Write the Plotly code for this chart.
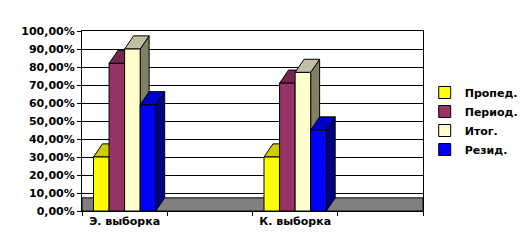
import plotly.graph_objects as go

categories = ["Э. выборка", " ", "К. выборка", "  "]
series_names = ["Пропед.", "Период.", "Итог.", "Резид."]
propedevt = [0.30, None, 0.30, None]
period = [0.82, None, 0.71, None]
itog = [0.90, None, 0.77, None]
rezid = [0.59, None, 0.45, None]
series_values = [propedevt, period, itog, rezid]
colors = ["#FFFF00", "#993366", "#FFFFCC", "#0000FF"]
top_colors = ["#CCCC00", "#732650", "#C0C0A0", "#0000CC"]
side_colors = ["#999900", "#5C1F3D", "#808066", "#000080"]

BARGAP = 0.27
DEPTH_X = 0.105   # depth offset, category units
DEPTH_Y = 0.073   # depth offset, value units

fig = go.Figure()
for name, vals, col in zip(series_names, series_values, colors):
    fig.add_trace(go.Bar(
        x=categories, y=vals, name=name,
        marker=dict(color=col, line=dict(color="black", width=1)),
    ))

shapes = [dict(type="rect", xref="paper", yref="y", x0=0, x1=1, y0=0, y1=DEPTH_Y,
               fillcolor="#808080", line=dict(color="black", width=1), layer="between")]

n = len(series_values)
w = (1 - BARGAP) / n
for i in range(len(categories)):
    for j, vals in enumerate(series_values):
        v = vals[i]
        if v is None:
            continue
        x0 = i - (1 - BARGAP) / 2 + j * w
        x1 = x0 + w
        top = f"M {x0},{v} L {x0 + DEPTH_X},{v + DEPTH_Y} L {x1 + DEPTH_X},{v + DEPTH_Y} L {x1},{v} Z"
        side = f"M {x1},0 L {x1 + DEPTH_X},{DEPTH_Y} L {x1 + DEPTH_X},{v + DEPTH_Y} L {x1},{v} Z"
        shapes.append(dict(type="path", xref="x", yref="y", path=side,
                           fillcolor=side_colors[j], line=dict(color="black", width=1), layer="between"))
        shapes.append(dict(type="path", xref="x", yref="y", path=top,
                           fillcolor=top_colors[j], line=dict(color="black", width=1), layer="between"))

fig.update_layout(
    width=529, height=252,
    margin=dict(l=82, r=106, t=31, b=41, autoexpand=False),
    paper_bgcolor="white", plot_bgcolor="white",
    separators=", ",
    barmode="group", bargap=BARGAP, bargroupgap=0,
    font=dict(family="DejaVu Sans, sans-serif", size=11, color="black", weight="bold"),
    showlegend=True,
    legend=dict(x=1.005, y=0.50, xanchor="left", yanchor="middle",
                font=dict(size=11, weight="bold"), tracegroupgap=2, itemwidth=30,
                bgcolor="rgba(0,0,0,0)"),
    xaxis=dict(type="category", categoryorder="array", categoryarray=categories,
               showline=True, linecolor="black", linewidth=1, mirror=True,
               ticks="outside", ticklen=4, tickcolor="black", tickson="boundaries",
               tickangle=0, automargin=False,
               showgrid=False, tickfont=dict(size=11, weight="bold")),
    yaxis=dict(range=[0, 1.0], tickvals=[i / 10 for i in range(11)], tickformat=".2%",
               showline=True, linecolor="black", linewidth=1, mirror=True,
               ticks="outside", ticklen=4, tickcolor="black", automargin=False,
               showgrid=True, gridcolor="black", gridwidth=1, zeroline=False,
               tickfont=dict(size=11, weight="bold")),
    shapes=shapes,
)

fig.write_html("out.html")
